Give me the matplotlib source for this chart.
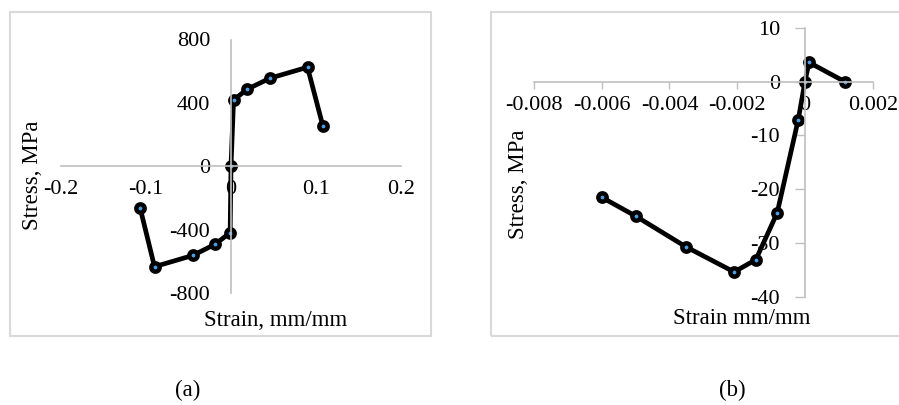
import matplotlib.pyplot as plt
from matplotlib.patches import Rectangle

plt.rcParams['font.family'] = ['Liberation Serif', 'DejaVu Serif']
plt.rcParams['axes.unicode_minus'] = False

# panel (a): full cycle
a_strain = [-0.107, -0.090, -0.045, -0.0185, -0.001, 0.0, 0.003, 0.019, 0.046, 0.090, 0.108]
a_stress = [-261, -634, -563, -492, -419, 0, 418, 486, 556, 625, 256]
a_xticks = [-0.2, -0.1, 0, 0.1, 0.2]
a_xlabels = ['-0.2', '-0.1', '0', '0.1', '0.2']
a_yticks = [800, 400, 0, -400, -800]
a_ylabels = ['800', '400', '0', '-400', '-800']

# panel (b): zoom near origin
b_strain = [-0.0060, -0.0050, -0.00352, -0.00209, -0.00145, -0.00082, -0.0002, 0.0, 0.00012, 0.00118]
b_stress = [-21.5, -25.0, -30.7, -35.4, -33.1, -24.4, -7.1, 0.0, 3.6, 0.0]
b_xticks = [-0.008, -0.006, -0.004, -0.002, 0, 0.002]
b_xlabels = ['-0.008', '-0.006', '-0.004', '-0.002', '0', '0.002']
b_yticks = [10, 0, -10, -20, -30, -40]
b_ylabels = ['10', '0', '-10', '-20', '-30', '-40']

W, H = 899, 405
fig = plt.figure(figsize=(W / 100, H / 100), dpi=100)

def px_axes(x0, x1, y0, y1):
    # pixel box (top-left origin) -> figure fraction
    return fig.add_axes([x0 / W, 1 - y1 / H, (x1 - x0) / W, (y1 - y0) / H])

def frame(x0, x1, y0, y1):
    fig.patches.append(Rectangle((x0 / W, 1 - y1 / H), (x1 - x0) / W, (y1 - y0) / H,
                                 transform=fig.transFigure, fill=False,
                                 edgecolor='#d9d9d9', linewidth=1.5))

def style(ax):
    for s in ['top', 'right']:
        ax.spines[s].set_visible(False)
    for s in ['left', 'bottom']:
        ax.spines[s].set_position(('data', 0))
        ax.spines[s].set_color('#bfbfbf')
        ax.spines[s].set_linewidth(1.2)
    ax.patch.set_alpha(0)

line_kw = dict(color='black', lw=3.4, marker='o', ms=6, mew=3.2,
               mec='black', mfc='#4a9de0', solid_joinstyle='round', clip_on=False)

frame(10, 431, 12, 336)
frame(491, 910, 12, 336)

fs_tick = 16
fs_lab = 16.5

# (a)
ax1 = px_axes(61, 401, 39.5, 293)
ax1.plot(a_strain, a_stress, **line_kw)
ax1.set_xlim(-0.2, 0.2)
ax1.set_ylim(-800, 800)
style(ax1)
ax1.set_xticks(a_xticks, a_xlabels)
ax1.set_yticks(a_yticks, a_ylabels)
ax1.tick_params(axis='x', length=0, pad=10, labelsize=fs_tick)
ax1.tick_params(axis='y', length=0, pad=15, labelsize=fs_tick)

# (b)
ax2 = px_axes(534, 872.7, 28, 296.7)
ax2.plot(b_strain, b_stress, **line_kw)
ax2.set_xlim(-0.008, 0.002)
ax2.set_ylim(-40, 10)
style(ax2)
ax2.set_xticks(b_xticks, b_xlabels)
ax2.set_yticks(b_yticks, b_ylabels)
ax2.tick_params(axis='x', direction='out', length=5, width=1, color='#bfbfbf', pad=5, labelsize=fs_tick)
ax2.tick_params(axis='y', direction='out', length=7, width=1, color='#bfbfbf', pad=11, labelsize=fs_tick)

# axis titles and captions
fig.text(276 / W, 1 - 320 / H, 'Strain, mm/mm', ha='center', va='center', fontsize=fs_lab)
fig.text(32 / W, 1 - 175 / H, 'Stress, MPa', ha='center', va='center', rotation=90, fontsize=fs_lab)
fig.text(742 / W, 1 - 318 / H, 'Strain mm/mm', ha='center', va='center', fontsize=fs_lab)
fig.text(518 / W, 1 - 184 / H, 'Stress, MPa', ha='center', va='center', rotation=90, fontsize=fs_lab)
fig.text(188 / W, 1 - 390 / H, '(a)', ha='center', va='center', fontsize=fs_lab)
fig.text(732 / W, 1 - 390 / H, '(b)', ha='center', va='center', fontsize=fs_lab)

fig.savefig('out.png', dpi=100)
